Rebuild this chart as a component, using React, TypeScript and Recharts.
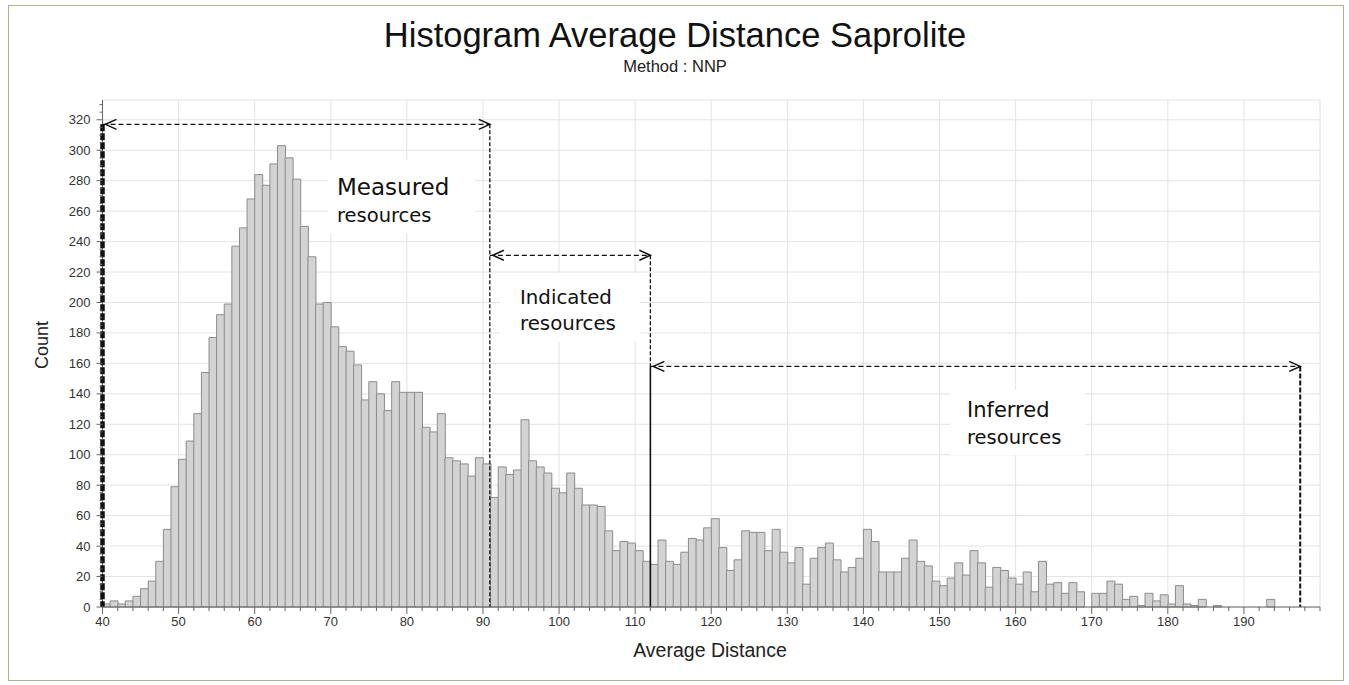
import React from 'react';
import { BarChart, Bar, XAxis, YAxis, CartesianGrid, ReferenceLine } from 'recharts';

// histogram bins are 1 unit wide, first bin starts at 40
const BIN_START = 40;
const BIN_WIDTH = 1;

// counts per bin, 40 .. 193
const COUNTS = [
  2, 4, 2, 4, 7, 12, 17, 30, 51, 79,
  97, 109, 127, 154, 177, 192, 199, 237, 249, 268,
  284, 277, 291, 303, 295, 281, 250, 230, 199, 200,
  184, 171, 168, 159, 136, 148, 140, 129, 148, 141,
  141, 141, 118, 115, 127, 98, 96, 94, 86, 98,
  94, 72, 92, 87, 90, 123, 96, 92, 88, 78,
  75, 88, 78, 67, 67, 66, 50, 37, 43, 42,
  37, 30, 28, 44, 30, 28, 36, 45, 44, 52,
  58, 39, 24, 31, 50, 49, 49, 37, 51, 36,
  29, 39, 15, 32, 39, 42, 31, 23, 26, 32,
  51, 43, 23, 23, 23, 32, 44, 30, 27, 17,
  14, 19, 29, 21, 37, 29, 13, 26, 24, 19,
  15, 23, 10, 30, 15, 16, 9, 16, 10, 0,
  9, 9, 17, 15, 5, 7, 1, 9, 4, 8,
  2, 14, 2, 1, 5, 0, 1, 0, 0, 0,
  0, 0, 0, 5,
];

const X_LABELS = [40, 50, 60, 70, 80, 90, 100, 110, 120, 130, 140, 150, 160, 170, 180, 190];
const Y_LABELS = [0, 20, 40, 60, 80, 100, 120, 140, 160, 180, 200, 220, 240, 260, 280, 300, 320];
const X_MINOR = Array.from({ length: 81 }, (_, i) => 40 + i * 2);
const Y_MINOR = Array.from({ length: 67 }, (_, i) => i * 5);

// resource class boundaries (x) and arrow levels (count)
const MEASURED = { from: 40, to: 90.9, level: 317 };
const INDICATED = { from: 90.9, to: 112, level: 231 };
const INFERRED = { from: 112, to: 197.4, level: 158 };

const INK = '#111';

const XTick = (p: any) => {
  const { x, y, payload } = p;
  const major = X_LABELS.includes(payload.value);
  return (
    <g>
      <line x1={x} y1={y} x2={x} y2={y + (major ? 7 : 4)} stroke="#666" />
      {major && (
        <text x={x} y={y + 19} textAnchor="middle" fontSize={13} fill="#333">
          {payload.value}
        </text>
      )}
    </g>
  );
};

const YTick = (p: any) => {
  const { x, y, payload } = p;
  const major = Y_LABELS.includes(payload.value);
  return (
    <g>
      <line x1={x - (major ? 6 : 3)} y1={y} x2={x} y2={y} stroke="#666" />
      {major && (
        <text x={x - 12} y={y + 4.5} textAnchor="end" fontSize={13} fill="#333">
          {payload.value}
        </text>
      )}
    </g>
  );
};

const arrow = (p: any) => {
  const { x1, y1, x2, y2 } = p;
  const a = 11;
  const h = 5;
  const l = x1 + 3;
  return (
    <g>
      <line x1={x1} y1={y1} x2={x2} y2={y2} stroke={INK} strokeWidth={1.3} strokeDasharray="5 3" />
      <polyline points={`${l + a},${y1 - h} ${l},${y1} ${l + a},${y1 + h}`} fill="none" stroke={INK} strokeWidth={1.5} />
      <polyline points={`${x2 - a},${y2 - h} ${x2},${y2} ${x2 - a},${y2 + h}`} fill="none" stroke={INK} strokeWidth={1.5} />
    </g>
  );
};

const vline = (width: number, dash?: string) => (p: any) => (
  <line x1={p.x1} y1={p.y1} x2={p.x2} y2={p.y2} stroke={INK} strokeWidth={width} strokeDasharray={dash} />
);

export default function App() {
  const data = COUNTS.map((count, i) => ({ mid: BIN_START + (i + 0.5) * BIN_WIDTH, count }));

  return (
    <div
      style={{
        position: 'absolute',
        left: 0,
        top: 0,
        width: 1349,
        height: 685,
        background: '#fff',
        fontFamily: '"Liberation Sans", Arial, sans-serif',
      }}
    >
      <div
        style={{
          position: 'absolute',
          left: 8,
          top: 5,
          width: 1336,
          height: 676,
          border: '1px solid #b4b197',
          boxSizing: 'border-box',
        }}
      />
      <div style={{ position: 'absolute', left: 0, top: 0 }}>
        <BarChart
          width={1349}
          height={685}
          data={data}
          margin={{ top: 100, right: 29, bottom: 48, left: 42 }}
          barCategoryGap={0}
          barGap={0}
        >
          <CartesianGrid
            stroke="#e3e3e3"
            horizontalValues={[...Y_LABELS, 333]}
            verticalValues={[...X_LABELS, 200]}
          />
          <XAxis
            dataKey="mid"
            type="number"
            domain={[40, 200]}
            ticks={X_MINOR}
            interval={0}
            tickSize={0}
            tickMargin={0}
            tick={<XTick />}
            stroke="#666"
            height={30}
          />
          <YAxis
            type="number"
            domain={[0, 333]}
            ticks={Y_MINOR}
            interval={0}
            tickSize={0}
            tickMargin={0}
            tick={<YTick />}
            axisLine={false}
            width={60.5}
          />
          <Bar dataKey="count" fill="#d3d3d3" stroke="#8c8c8c" strokeWidth={1} isAnimationActive={false} />

          {/* y axis line, drawn here so the measured boundary sits on top of it */}
          <ReferenceLine ifOverflow="visible" x={40} stroke="#666" />
          <ReferenceLine ifOverflow="visible" segment={[{ x: MEASURED.from, y: MEASURED.level }, { x: MEASURED.from, y: 0 }]} shape={vline(4.5, '7 2')} />
          <ReferenceLine ifOverflow="visible" segment={[{ x: MEASURED.from, y: MEASURED.level }, { x: MEASURED.to, y: MEASURED.level }]} shape={arrow} />
          <ReferenceLine ifOverflow="visible" segment={[{ x: MEASURED.to, y: MEASURED.level }, { x: MEASURED.to, y: 0 }]} shape={vline(1.3, '4 2')} />

          <ReferenceLine ifOverflow="visible" segment={[{ x: INDICATED.from, y: INDICATED.level }, { x: INDICATED.to, y: INDICATED.level }]} shape={arrow} />
          <ReferenceLine ifOverflow="visible" segment={[{ x: INDICATED.to, y: INDICATED.level }, { x: INDICATED.to, y: INFERRED.level }]} shape={vline(1.3, '4 2')} />

          <ReferenceLine ifOverflow="visible" segment={[{ x: INFERRED.from, y: INFERRED.level }, { x: INFERRED.from, y: 0 }]} shape={vline(1.6)} />
          <ReferenceLine ifOverflow="visible" segment={[{ x: INFERRED.from, y: INFERRED.level }, { x: INFERRED.to, y: INFERRED.level }]} shape={arrow} />
          <ReferenceLine ifOverflow="visible" segment={[{ x: INFERRED.to, y: INFERRED.level }, { x: INFERRED.to, y: 0 }]} shape={vline(2, '5 2')} />
        </BarChart>
      </div>

      <svg width={1349} height={685} style={{ position: 'absolute', left: 0, top: 0, pointerEvents: 'none' }}>
        <text x={675} y={47} textAnchor="middle" fontSize={34.5} fill="#111">
          Histogram Average Distance Saprolite
        </text>
        <text x={675} y={72} textAnchor="middle" fontSize={16.5} fill="#222">
          Method : NNP
        </text>
        <text x={710} y={657} textAnchor="middle" fontSize={19.5} fill="#222">
          Average Distance
        </text>
        <text x={0} y={0} transform="translate(48 345) rotate(-90)" textAnchor="middle" fontSize={18} fill="#222">
          Count
        </text>

        <g fontFamily='"DejaVu Sans", sans-serif' fill="#111">
          <rect x={328} y={160} width={147} height={73} fill="#fff" />
          <text x={337} y={195} fontSize={23}>Measured</text>
          <text x={337} y={222} fontSize={19.5}>resources</text>

          <rect x={500} y={273} width={140} height={69} fill="#fff" />
          <text x={520} y={304} fontSize={19.8}>Indicated</text>
          <text x={520} y={329.5} fontSize={19.8}>resources</text>

          <rect x={950} y={390} width={135} height={65} fill="#fff" />
          <text x={967} y={417} fontSize={21}>Inferred</text>
          <text x={967} y={444} fontSize={19.5}>resources</text>
        </g>
      </svg>
    </div>
  );
}
